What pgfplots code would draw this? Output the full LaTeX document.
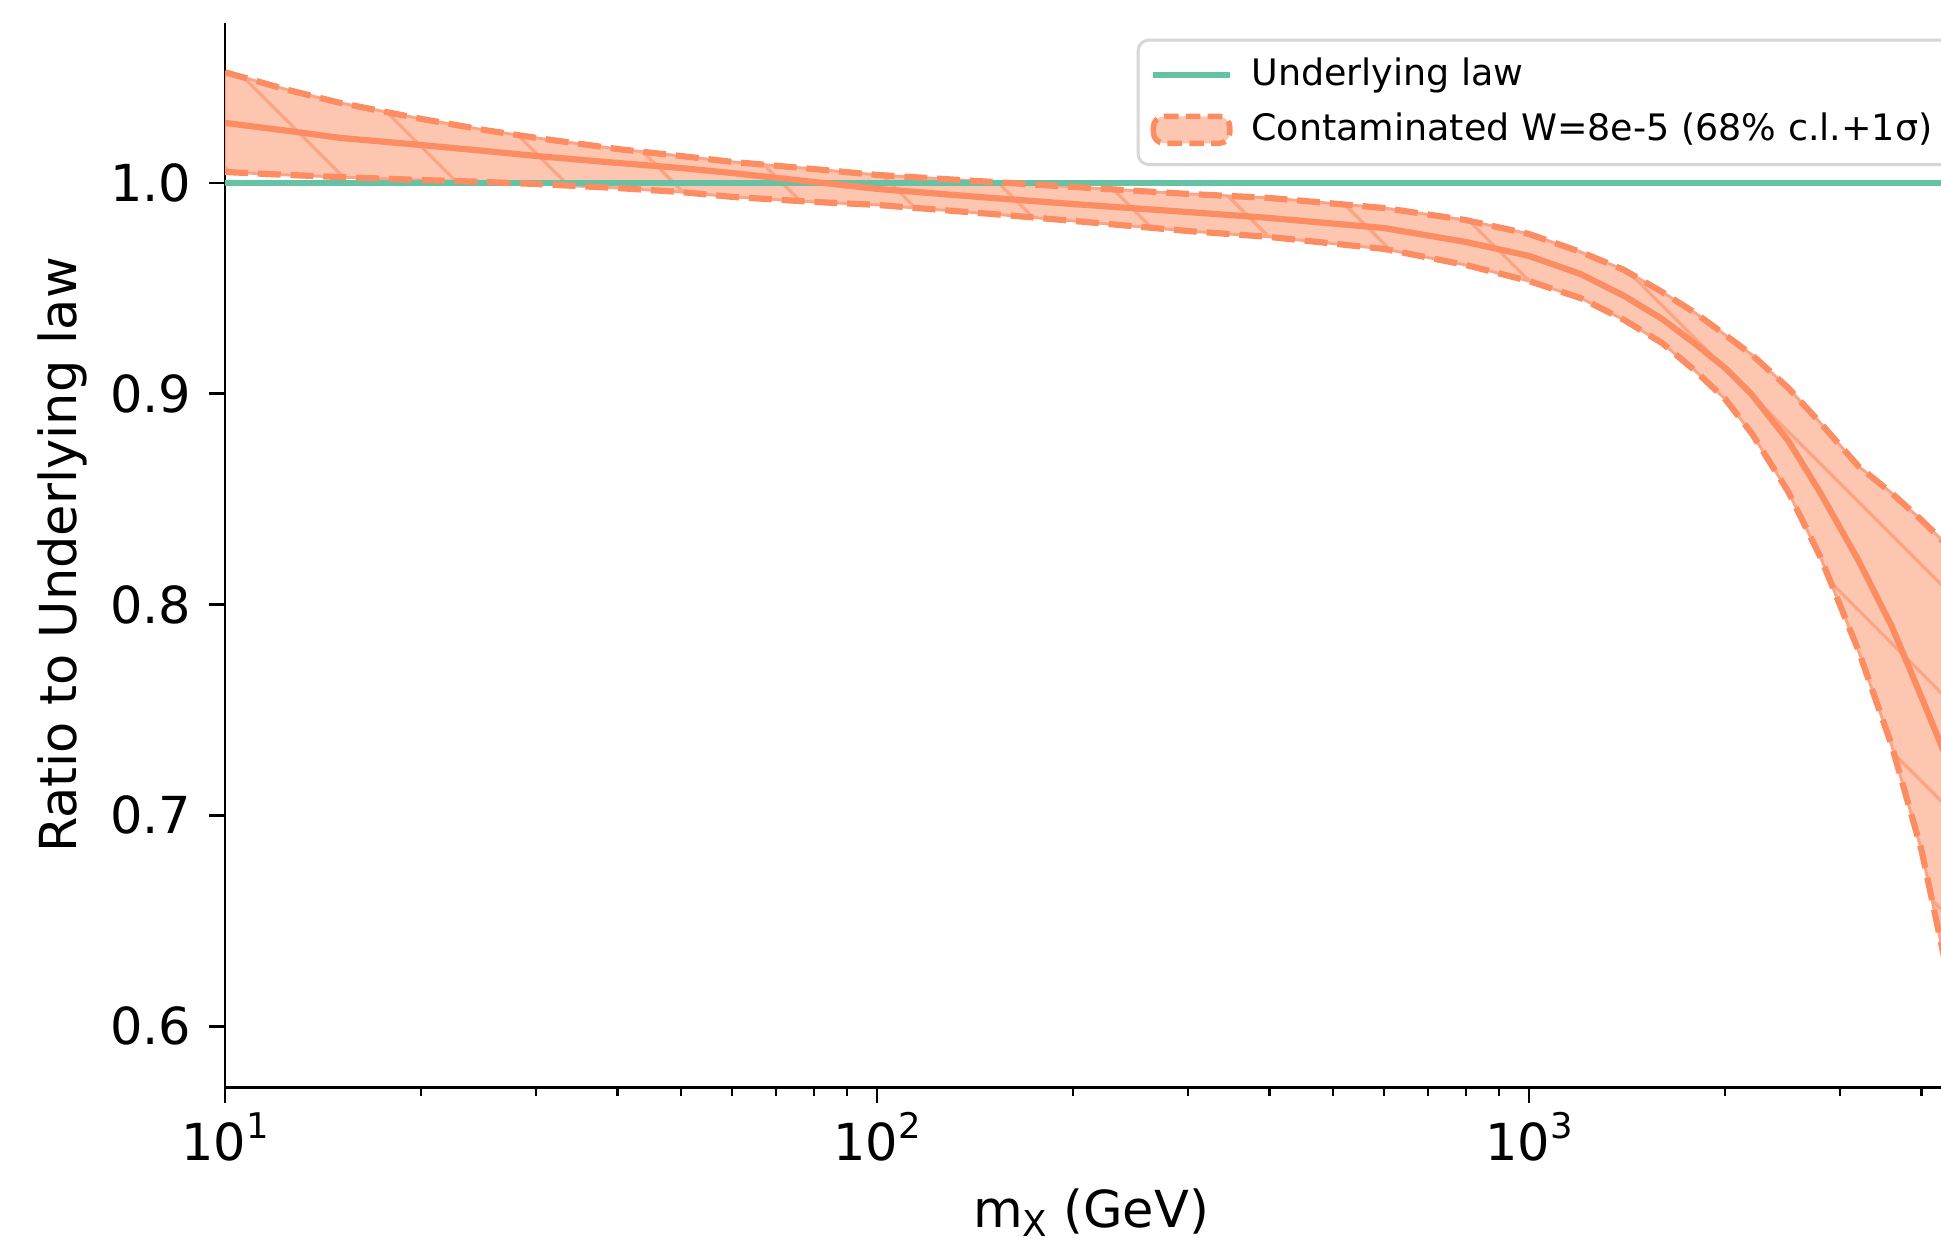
\documentclass[border=0pt]{standalone}
\usepackage{fontspec}
\setmainfont{DejaVu Sans}
\usepackage{pgfplots}
\usepackage{pgfplotstable}
\pgfplotsset{compat=1.18}
\usepgfplotslibrary{fillbetween}
\usetikzlibrary{patterns.meta}

\definecolor{lawgreen}{HTML}{66C2A5}
\definecolor{contorange}{HTML}{FC8D62}
\definecolor{bandfill}{HTML}{FDC6B0}
\definecolor{hatchc}{HTML}{FBA585}
\definecolor{legendgray}{HTML}{D6D6D6}

\newcommand{\sups}[1]{\raisebox{6pt}{\fontsize{9.7}{10}\selectfont #1}}

% ratio to underlying law: upper / central / lower edge of the band
\pgfplotstableread{
x     hi      mid     lo
10    1.0525  1.0285  1.0052
12.5  1.0441  1.0247  1.0038
15    1.0380  1.0214  1.0028
20    1.0304  1.0180  1.0014
25    1.0251  1.0152  1.0005
30    1.0214  1.0128  0.9995
40    1.0161  1.0095  0.9976
50    1.0128  1.0071  0.9957
60    1.0100  1.0047  0.9934
80    1.0066  1.0005  0.9910
100   1.0038  0.9972  0.9896
150   1.0005  0.9929  0.9853
200   0.9981  0.9900  0.9820
300   0.9948  0.9862  0.9772
400   0.9929  0.9834  0.9744
600   0.9881  0.9786  0.9687
800   0.9824  0.9720  0.9611
1000  0.9758  0.9654  0.9535
1200  0.9673  0.9568  0.9454
1400  0.9587  0.9464  0.9350
1600  0.9483  0.9355  0.9241
1800  0.9383  0.9236  0.9108
2000  0.9279  0.9122  0.8975
2200  0.9184  0.8994  0.8809
2500  0.9027  0.8776  0.8534
2800  0.8861  0.8529  0.8225
3200  0.8657  0.8211  0.7784
3600  0.8529  0.7898  0.7333
4000  0.8401  0.7561  0.6835
4300  0.8306  0.7324  0.6375
4600  0.8221  0.7106  0.5938
}\band

\begin{document}
\begin{tikzpicture}
\begin{axis}[
  at={(0pt,0pt)}, anchor=south west,
  scale only axis, width=476.5pt, height=292.1pt,
  xmode=log, xmin=10, xmax=4600, ymin=0.5711, ymax=1.0759,
  axis x line*=bottom, axis y line*=left,
  axis line style={line width=0.8pt, black},
  xtick={10,100,1000},
  xticklabels={10\sups{1},10\sups{2},10\sups{3}},
  minor xtick={20,30,40,50,60,70,80,90,200,300,400,500,600,700,800,900,2000,3000,4000},
  ytick={0.6,0.7,0.8,0.9,1.0},
  yticklabels={0.6,0.7,0.8,0.9,1.0},
  tick align=outside,
  major tick length=4.3pt, minor tick length=2.4pt,
  every tick/.style={black, line width=0.8pt},
  every minor tick/.style={black, line width=0.6pt},
  tick label style={font=\fontsize{14}{16}\selectfont},
  xticklabel style={anchor=base, yshift=-15.7pt},
  yticklabel style={anchor=east, xshift=-1.4pt},
  every axis x label/.style={at={(axis description cs:0.4989,0)}, anchor=base, yshift=-38.4pt},
  every axis y label/.style={at={(axis description cs:-0.0934,0.5)}, rotate=90, anchor=center},
  label style={font=\fontsize{14}{16}\selectfont},
  xlabel={m\raisebox{-2.7pt}{\fontsize{9.8}{10}\selectfont X} (GeV)},
  ylabel={Ratio to Underlying law},
  legend style={at={(axis description cs:0.5251,0.9853)}, anchor=north west,
    draw=legendgray, line width=0.8pt, rounded corners=3pt,
    font=\fontsize{10}{12}\selectfont,
    inner xsep=3.3pt, inner ysep=3pt, row sep=2pt, column sep=3pt},
  legend cell align=left,
]
\addlegendimage{legend image code/.code={\draw[lawgreen, line width=1.8pt] (0pt,0pt) -- (21pt,0pt);}}
\addlegendentry{Underlying law}
\addlegendimage{legend image code/.code={\draw[contorange, line width=1.5pt, dash pattern=on 4pt off 2pt, fill=bandfill] (0pt,-3.7pt) rectangle (21pt,3.7pt);}}
\addlegendentry{Contaminated W=8e-5 (68\% c.l.+1σ)}

\addplot[draw=none, name path=hi, forget plot] table[x=x, y=hi] {\band};
\addplot[draw=none, name path=lo, forget plot] table[x=x, y=lo] {\band};
\addplot[fill=bandfill, draw=none, forget plot] fill between[of=hi and lo];
\addplot[pattern={Lines[angle=-45, distance=21pt, line width=0.9pt]}, pattern color=hatchc,
  draw=hatchc, line width=0.8pt, forget plot] fill between[of=hi and lo];

\addplot[lawgreen, line width=1.8pt, forget plot] coordinates {(10,1) (4600,1)};

\addplot[contorange, line width=1.7pt, dash pattern=on 6.3pt off 2.7pt, forget plot] table[x=x, y=hi] {\band};
\addplot[contorange, line width=1.7pt, dash pattern=on 6.3pt off 2.7pt, forget plot] table[x=x, y=lo] {\band};
\addplot[contorange, line width=1.7pt, forget plot] table[x=x, y=mid] {\band};
\end{axis}
\pgfresetboundingbox
\useasboundingbox (-61.76pt,-42.0pt) rectangle (471.0pt,298.4pt);
\end{tikzpicture}
\end{document}
